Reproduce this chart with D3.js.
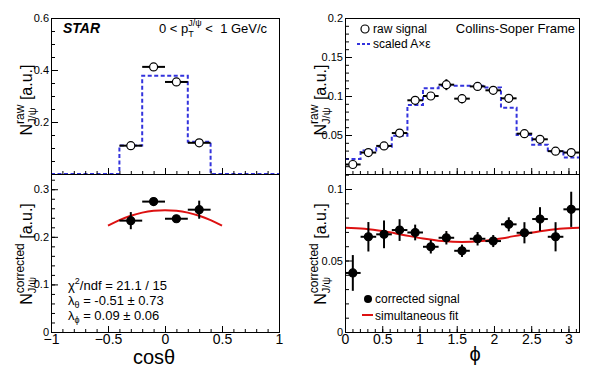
<!DOCTYPE html>
<html>
<head>
<meta charset="utf-8">
<script src="https://cdn.jsdelivr.net/npm/d3@7"></script>
<style>
  body { margin: 0; background: #fff; }
  text { font-family: "Liberation Sans", Arial, sans-serif; fill: #000; white-space: pre; }
</style>
</head>
<body>
<div id="chart"></div>
<script>

// cos(theta) panel data
var cosCenters = [-0.3, -0.1, 0.1, 0.3];
var cosHalfBin = 0.1;
var cosRaw = [0.109, 0.412, 0.354, 0.120];
var cosRawErr = [0.004, 0.006, 0.006, 0.004];
var cosAccEdges = [-1, -0.8, -0.6, -0.4, -0.2, 0, 0.2, 0.4, 0.6, 0.8, 1];
var cosAcc = [0, 0, 0, 0.110, 0.378, 0.378, 0.124, 0, 0, 0];
var cosCorr = [0.234, 0.274, 0.238, 0.257];
var cosCorrErr = [0.018, 0.008, 0.006, 0.019];
var cosFitX = [-0.5, -0.4, -0.3, -0.2, -0.1, 0, 0.1, 0.2, 0.3, 0.4, 0.5];
var cosFitY = [0.2234, 0.2351, 0.2443, 0.2508, 0.2547, 0.256, 0.2547, 0.2508, 0.2443, 0.2351, 0.2234];

// phi panel data
var phiCenters = [0.105, 0.314, 0.524, 0.733, 0.942, 1.152, 1.361, 1.571, 1.780, 1.990, 2.199, 2.409, 2.618, 2.827, 3.037];
var phiHalfBin = 0.1047;
var phiRaw = [0.0122, 0.0275, 0.036, 0.0525, 0.0945, 0.100, 0.1145, 0.0966, 0.1123, 0.1073, 0.097, 0.0517, 0.0445, 0.0293, 0.0275];
var phiRawErr = [0.003, 0.003, 0.003, 0.004, 0.005, 0.005, 0.007, 0.006, 0.005, 0.005, 0.005, 0.004, 0.003, 0.003, 0.003];
var phiAccEdges = [0, 0.209, 0.419, 0.628, 0.838, 1.047, 1.257, 1.466, 1.676, 1.885, 2.094, 2.304, 2.513, 2.723, 2.932, 3.1416];
var phiAcc = [0.0192, 0.030, 0.035, 0.049, 0.0886, 0.110, 0.1132, 0.1132, 0.1132, 0.111, 0.085, 0.050, 0.0376, 0.0287, 0.0211];
var phiCorr = [0.0413, 0.0666, 0.0683, 0.0713, 0.0696, 0.0596, 0.0659, 0.0568, 0.0652, 0.0636, 0.0753, 0.0694, 0.079, 0.0666, 0.0858];
var phiCorrErr = [0.0125, 0.0103, 0.0097, 0.0076, 0.0055, 0.0047, 0.0047, 0.0043, 0.0047, 0.0042, 0.0049, 0.0074, 0.0083, 0.0102, 0.0123];
var phiFitX = [0, 0.262, 0.524, 0.785, 1.047, 1.309, 1.571, 1.833, 2.094, 2.356, 2.618, 2.880, 3.1416];
var phiFitY = [0.0729, 0.0722, 0.0704, 0.0679, 0.0654, 0.0636, 0.0629, 0.0636, 0.0654, 0.0679, 0.0704, 0.0722, 0.0729];

// tick labels
var cosTicks = [-1, -0.5, 0, 0.5, 1];
var phiTicks = [0, 0.5, 1, 1.5, 2, 2.5, 3];
var rawLTicks = [0.2, 0.4, 0.6];
var corrLTicks = [0, 0.1, 0.2, 0.3];
var rawRTicks = [0.05, 0.1, 0.15, 0.2];
var corrRTicks = [0, 0.05, 0.1];

var width = 600, height = 388;
var yTop = 18, yMid = 174, yBot = 332;
var blue = "#3333dd", red = "#dd1111";

var svg = d3.select("#chart").append("svg")
    .attr("width", width)
    .attr("height", height);

// scales
var xCos = d3.scaleLinear().domain([-1, 1]).range([51, 279]);
var xPhi = d3.scaleLinear().domain([0, Math.PI]).range([345, 579]);
var yRawL = d3.scaleLinear().domain([0, 0.6]).range([yMid, yTop]);
var yCorrL = d3.scaleLinear().domain([0, 0.332]).range([yBot, yMid]);
var yRawR = d3.scaleLinear().domain([0, 0.2]).range([yMid, yTop]);
var yCorrR = d3.scaleLinear().domain([0, 0.1105]).range([yBot, yMid]);

var fmt = d3.format("");

// text with sub/superscripts, returns total width
function rich(g, x, y, size, segs) {
    var t = g.append("text").attr("font-size", size);
    var cx = x, lastX = x;
    segs.forEach(function(s) {
        var px = s.stack ? lastX : cx;
        var ts = t.append("tspan")
            .attr("x", px)
            .attr("y", y + (s.dy || 0))
            .attr("font-size", s.fs || size)
            .text(s.t);
        var w = ts.node().getComputedTextLength();
        lastX = px;
        cx = s.stack ? Math.max(cx, px + w) : px + w;
    });
    return { text: t, width: cx - x };
}

function yTitle(x, yc, sup, sub) {
    var g = svg.append("g").attr("transform", `translate(${x}, ${yc}) rotate(-90)`);
    var r = rich(g, 0, 0, 16, [
        { t: "N" },
        { t: sup, fs: 12, dy: -8 },
        { t: sub, fs: 11, dy: 4, stack: true },
        { t: " [a.u.]" }
    ]);
    r.text.attr("transform", `translate(${-r.width / 2}, 0)`);
}

function xAxis(scale, y, ticks, labels) {
    var ax = d3.axisBottom(scale).tickValues(ticks).tickSize(-6).tickPadding(2)
        .tickFormat(labels ? fmt : "");
    var g = svg.append("g").attr("transform", `translate(0, ${y})`).call(ax);
    g.select(".domain").remove();
    g.selectAll("text").attr("font-size", 14).attr("font-family", "Liberation Sans, Arial, sans-serif");
    var minor = d3.axisBottom(scale).tickValues(scale.ticks(Math.round((scale.domain()[1] - scale.domain()[0]) * 10)))
        .tickSize(-3).tickFormat("");
    var gm = svg.append("g").attr("transform", `translate(0, ${y})`).call(minor);
    gm.select(".domain").remove();
}

function yAxis(scale, x, ticks, nMinor) {
    var ax = d3.axisLeft(scale).tickValues(ticks).tickSize(-7).tickPadding(2).tickFormat(fmt);
    var g = svg.append("g").attr("transform", `translate(${x}, 0)`).call(ax);
    g.select(".domain").remove();
    g.selectAll("text").attr("font-size", 11).attr("font-family", "Liberation Sans, Arial, sans-serif");
    var minor = d3.axisLeft(scale).tickValues(scale.ticks(nMinor)).tickSize(-4).tickFormat("");
    var gm = svg.append("g").attr("transform", `translate(${x}, 0)`).call(minor);
    gm.select(".domain").remove();
}

function stepHist(xs, ys, edges, vals) {
    var pts = edges.map(function(e, i) { return [e, vals[Math.min(i, vals.length - 1)]]; });
    svg.append("path")
        .attr("d", d3.line().x(d => xs(d[0])).y(d => ys(d[1])).curve(d3.curveStepAfter)(pts))
        .attr("fill", "none")
        .attr("stroke", blue)
        .attr("stroke-width", 2)
        .attr("stroke-dasharray", "4,2.5");
}

function fitLine(xs, ys, fx, fy) {
    svg.append("path")
        .attr("d", d3.line().x((d, i) => xs(fx[i])).y((d, i) => ys(fy[i])).curve(d3.curveCatmullRom)(fx))
        .attr("fill", "none")
        .attr("stroke", red)
        .attr("stroke-width", 2);
}

function points(xs, ys, cx, vals, errs, hw, open) {
    var g = svg.append("g");
    cx.forEach(function(c, i) {
        g.append("line")
            .attr("x1", xs(c - hw)).attr("x2", xs(c + hw))
            .attr("y1", ys(vals[i])).attr("y2", ys(vals[i]))
            .attr("stroke", "#000").attr("stroke-width", 2);
        g.append("line")
            .attr("x1", xs(c)).attr("x2", xs(c))
            .attr("y1", ys(vals[i] - errs[i])).attr("y2", ys(vals[i] + errs[i]))
            .attr("stroke", "#000").attr("stroke-width", 2);
    });
    g.selectAll("circle").data(cx).enter().append("circle")
        .attr("cx", d => xs(d))
        .attr("cy", (d, i) => ys(vals[i]))
        .attr("r", 4)
        .attr("fill", open ? "#fff" : "#000")
        .attr("stroke", "#000")
        .attr("stroke-width", 1.2);
}

// histograms and curves
stepHist(xCos, yRawL, cosAccEdges, cosAcc);
stepHist(xPhi, yRawR, phiAccEdges, phiAcc);
fitLine(xCos, yCorrL, cosFitX, cosFitY);
fitLine(xPhi, yCorrR, phiFitX, phiFitY);

points(xCos, yRawL, cosCenters, cosRaw, cosRawErr, cosHalfBin, true);
points(xCos, yCorrL, cosCenters, cosCorr, cosCorrErr, cosHalfBin, false);
points(xPhi, yRawR, phiCenters, phiRaw, phiRawErr, phiHalfBin, true);
points(xPhi, yCorrR, phiCenters, phiCorr, phiCorrErr, phiHalfBin, false);

// frames
[[51, 279], [345, 579]].forEach(function(p) {
    [[yTop, yMid], [yMid, yBot]].forEach(function(q) {
        svg.append("rect")
            .attr("x", p[0] + 0.5).attr("y", q[0] + 0.5)
            .attr("width", p[1] - p[0]).attr("height", q[1] - q[0])
            .attr("fill", "none").attr("stroke", "#000").attr("stroke-width", 1);
    });
});

// axes
xAxis(xCos, yMid, cosTicks, false);
xAxis(xCos, yBot, cosTicks, true);
xAxis(xPhi, yMid, phiTicks, false);
xAxis(xPhi, yBot, phiTicks, true);
yAxis(yRawL, 51, rawLTicks, 12);
yAxis(yCorrL, 51, corrLTicks, 16);
yAxis(yRawR, 345, rawRTicks, 20);
yAxis(yCorrR, 345, corrRTicks, 11);

// axis titles
yTitle(32, 100, "raw", "J/ψ");
yTitle(32, 254, "corrected", "J/ψ");
yTitle(326, 100, "raw", "J/ψ");
yTitle(326, 254, "corrected", "J/ψ");

svg.append("text").attr("x", 154).attr("y", 364).attr("text-anchor", "middle")
    .attr("font-size", 20).text("cosθ");
svg.append("text").attr("x", 475).attr("y", 361).attr("text-anchor", "middle")
    .attr("font-size", 20).text("ϕ");

// labels
svg.append("text").attr("x", 63).attr("y", 33).attr("font-size", 14)
    .attr("font-weight", "bold").attr("font-style", "italic").text("STAR");
rich(svg, 159, 33, 13, [
    { t: "0 < p" },
    { t: "T", fs: 9, dy: 4 },
    { t: "J/ψ", fs: 9, dy: -7, stack: true },
    { t: " <  1 GeV/c" }
]);
svg.append("text").attr("x", 575).attr("y", 33).attr("text-anchor", "end")
    .attr("font-size", 13).text("Collins-Soper Frame");

// legend top right
svg.append("circle").attr("cx", 365).attr("cy", 29).attr("r", 4)
    .attr("fill", "#fff").attr("stroke", "#000").attr("stroke-width", 1.2);
svg.append("text").attr("x", 373).attr("y", 33).attr("font-size", 12).text("raw signal");
svg.append("line").attr("x1", 357).attr("x2", 370).attr("y1", 44).attr("y2", 44)
    .attr("stroke", blue).attr("stroke-width", 2).attr("stroke-dasharray", "3,2");
svg.append("text").attr("x", 373).attr("y", 48).attr("font-size", 12).text("scaled A×ε");

// legend bottom right
svg.append("circle").attr("cx", 368).attr("cy", 299).attr("r", 4).attr("fill", "#000");
svg.append("text").attr("x", 375).attr("y", 303).attr("font-size", 12).text("corrected signal");
svg.append("line").attr("x1", 362).attr("x2", 373).attr("y1", 315).attr("y2", 315)
    .attr("stroke", red).attr("stroke-width", 2);
svg.append("text").attr("x", 375).attr("y", 320).attr("font-size", 12).text("simultaneous fit");

// fit results
rich(svg, 68, 290, 13, [
    { t: "χ" }, { t: "2", fs: 9, dy: -6 }, { t: "/ndf = 21.1 / 15" }
]);
rich(svg, 68, 305, 13, [
    { t: "λ" }, { t: "θ", fs: 9, dy: 3 }, { t: " = -0.51 ± 0.73" }
]);
rich(svg, 68, 320, 13, [
    { t: "λ" }, { t: "ϕ", fs: 9, dy: 3 }, { t: " = 0.09 ± 0.06" }
]);

</script>
</body>
</html>
